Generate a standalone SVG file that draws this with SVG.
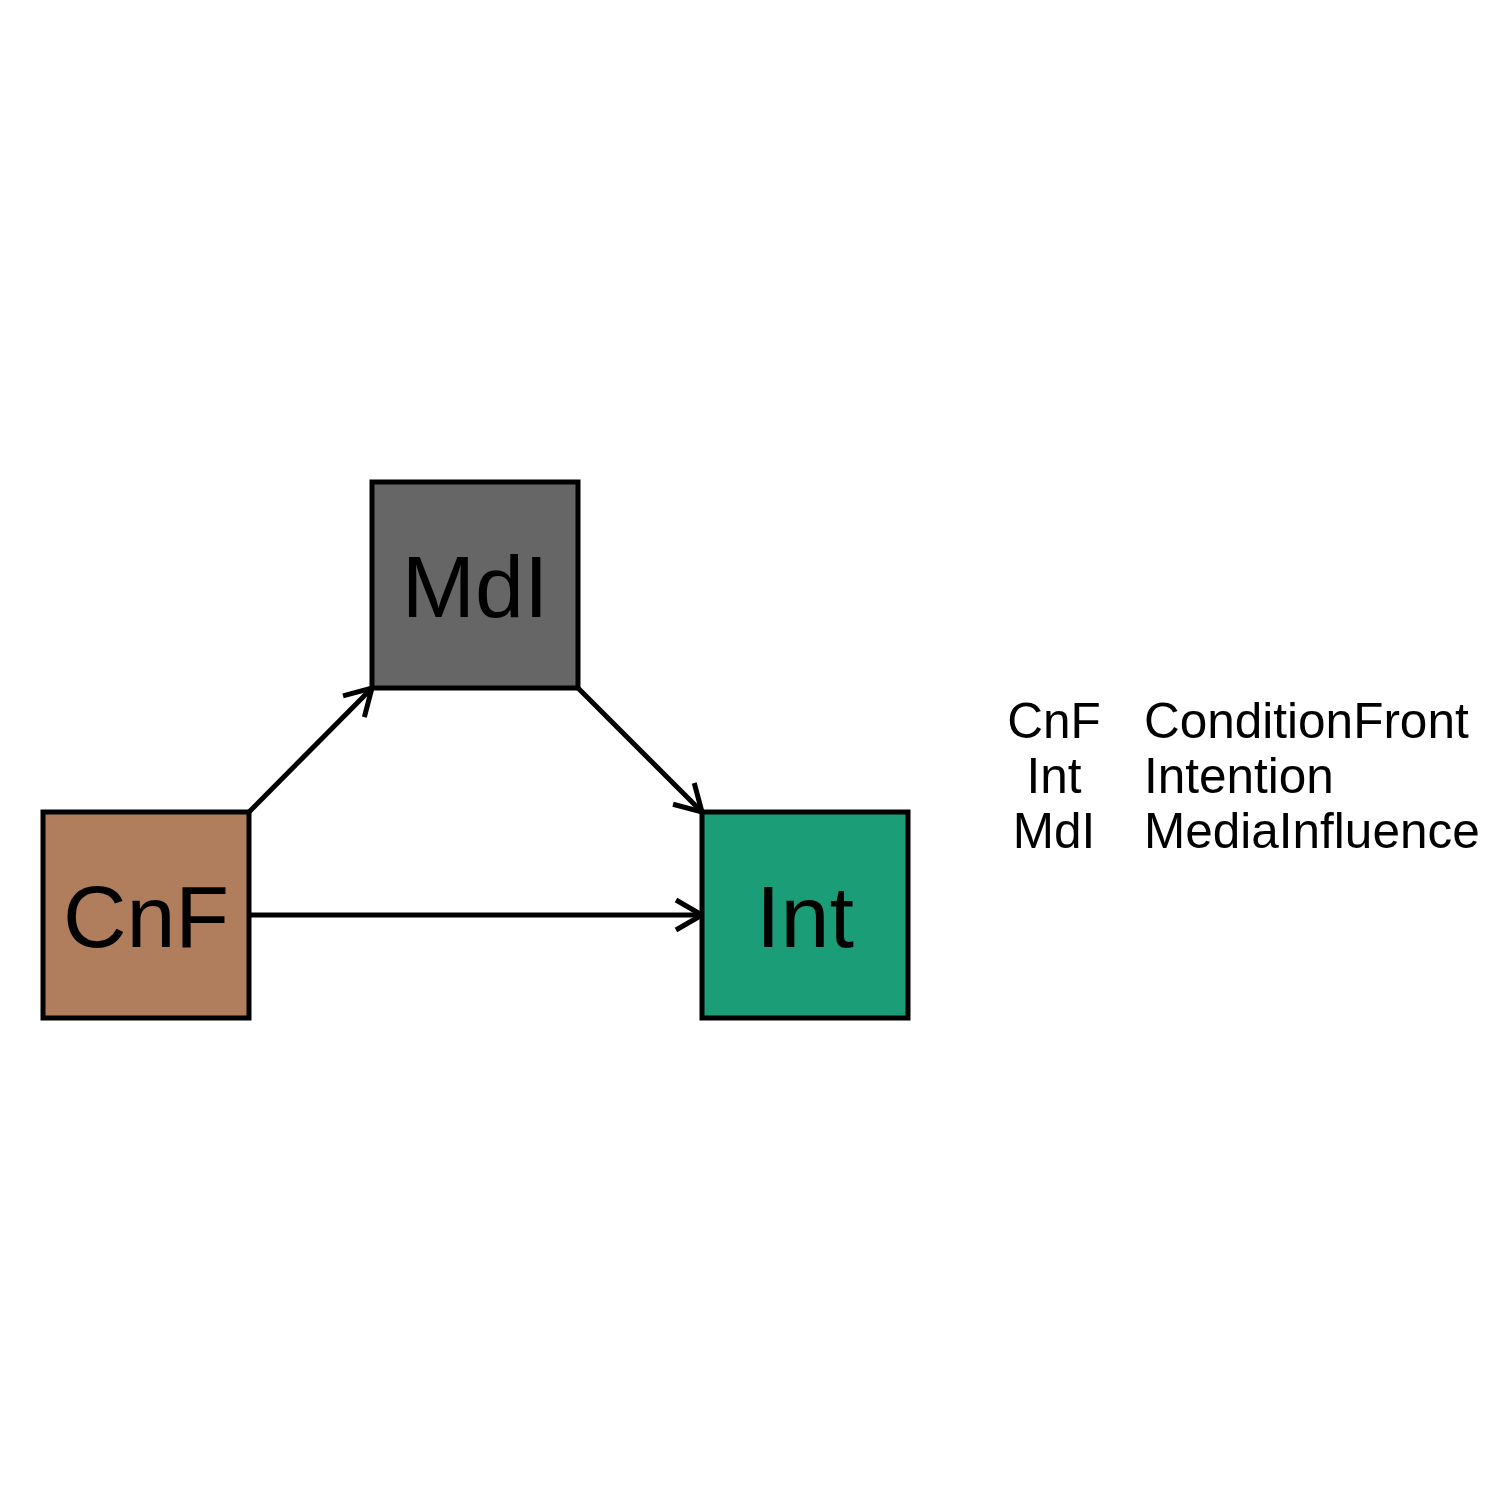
<svg xmlns="http://www.w3.org/2000/svg" width="1500" height="1500" viewBox="0 0 1500 1500">
<defs>
<style>
.node{stroke:#000;stroke-width:5}
.lbl{font-family:"Liberation Sans",Arial,sans-serif;font-size:88px;fill:#000;text-anchor:middle}
.leg{font-family:"Liberation Sans",Arial,sans-serif;font-size:49.5px;fill:#000}
.edge{stroke:#000;stroke-width:5;fill:none}
</style>
<marker id="arr" markerUnits="userSpaceOnUse" markerWidth="40" markerHeight="40" viewBox="-35 -20 40 40" refX="0" refY="0" orient="auto">
<path d="M-26,-15 L0,0 L-26,15" fill="none" stroke="#000" stroke-width="5"/>
</marker>
</defs>
<rect width="1500" height="1500" fill="#fff"/>
<g id="edges">
<line class="edge" x1="249" y1="812" x2="372" y2="688" marker-end="url(#arr)"/>
<line class="edge" x1="578" y1="688" x2="702" y2="812" marker-end="url(#arr)"/>
<line class="edge" x1="249" y1="915" x2="702" y2="915" marker-end="url(#arr)"/>
</g>
<g id="MdI">
<rect class="node" x="372" y="482" width="206" height="206" fill="#666666"/>
<text class="lbl" x="475" y="617">MdI</text>
</g>
<g id="CnF">
<rect class="node" x="43" y="812" width="206" height="206" fill="#B07D5D"/>
<text class="lbl" x="146" y="947">CnF</text>
</g>
<g id="Int">
<rect class="node" x="702" y="812" width="206" height="206" fill="#1B9E77"/>
<text class="lbl" x="805" y="947">Int</text>
</g>
<g id="legend">
<text class="leg" x="1054" y="738" text-anchor="middle">CnF</text>
<text class="leg" x="1054" y="793" text-anchor="middle">Int</text>
<text class="leg" x="1054" y="848" text-anchor="middle">MdI</text>
<text class="leg" x="1144" y="738">ConditionFront</text>
<text class="leg" x="1144" y="793">Intention</text>
<text class="leg" x="1144" y="848">MediaInfluence</text>
</g>
</svg>
